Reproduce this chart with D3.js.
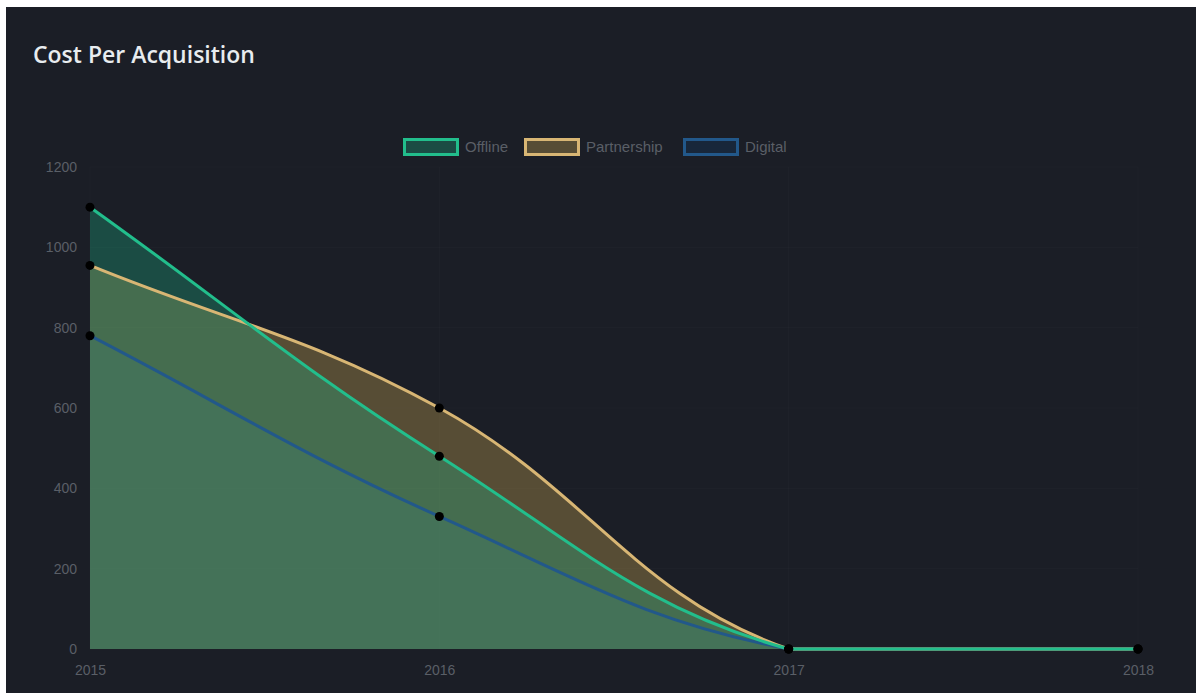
<!DOCTYPE html>
<html>
<head>
<meta charset="utf-8">
<script src="https://cdn.jsdelivr.net/npm/d3@7"></script>
<style>
  html, body { margin: 0; padding: 0; background: #ffffff; }
  svg { display: block; }
</style>
</head>
<body>
<svg id="chart" width="1196" height="693"></svg>
<script>
// Years on the x axis
const years = ["2015", "2016", "2017", "2018"];
// Cost per acquisition by channel
const offline = [1100, 480, 0, 0];
const partnership = [955, 600, 0, 0];
const digital = [780, 330, 0, 0];
// Y axis ticks
const yTicks = [0, 200, 400, 600, 800, 1000, 1200];

const series = [
  { name: "Offline", values: offline, stroke: "rgb(34,190,140)", fill: "rgba(30,185,140,0.30)" },
  { name: "Partnership", values: partnership, stroke: "rgb(216,182,116)", fill: "rgba(210,172,84,0.33)" },
  { name: "Digital", values: digital, stroke: "rgb(34,88,138)", fill: "rgba(20,62,105,0.30)" }
];

const W = 1196, H = 693;
const area = { left: 90, right: 1138, top: 167, bottom: 649 };
const tickColor = "#5a5f67";
const tickFont = "'Liberation Sans', Arial, sans-serif";

const svg = d3.select("#chart");

// Card background
svg.append("rect").attr("x", 6).attr("y", 7).attr("width", W - 6).attr("height", H - 7)
  .attr("fill", "#1b1e26");

svg.append("text")
  .attr("x", 33).attr("y", 63)
  .attr("fill", "#e8ecef")
  .attr("font-family", "'Open Sans', sans-serif")
  .attr("font-weight", 600)
  .attr("font-size", 23)
  .text("Cost Per Acquisition");

const x = d3.scalePoint().domain(years).range([area.left, area.right]);
const y = d3.scaleLinear().domain([0, 1200]).range([area.bottom, area.top]);

// Gridlines
const grid = svg.append("g");
grid.selectAll("line.h").data(yTicks).join("line")
  .attr("x1", area.left).attr("x2", area.right)
  .attr("y1", d => y(d)).attr("y2", d => y(d))
  .attr("stroke", "rgba(255,255,255,0.02)");
grid.selectAll("line.v").data(years).join("line")
  .attr("x1", d => x(d)).attr("x2", d => x(d))
  .attr("y1", area.top).attr("y2", area.bottom)
  .attr("stroke", "rgba(255,255,255,0.02)");

// Spline curve with tension and control points kept inside the plot area
function splineCurve(tension, bounds) {
  return function (context) {
    return {
      areaStart() { this._line = 0; },
      areaEnd() { this._line = NaN; },
      lineStart() { this._pts = []; },
      point(px, py) { this._pts.push([+px, +py]); },
      lineEnd() {
        const p = this._pts, n = p.length;
        if (n) {
          const cps = p.map((cur, i) => {
            const prev = p[Math.max(i - 1, 0)];
            const next = p[Math.min(i + 1, n - 1)];
            const d01 = Math.hypot(cur[0] - prev[0], cur[1] - prev[1]);
            const d12 = Math.hypot(next[0] - cur[0], next[1] - cur[1]);
            let s01 = d01 / (d01 + d12), s12 = d12 / (d01 + d12);
            if (isNaN(s01)) s01 = 0;
            if (isNaN(s12)) s12 = 0;
            const fa = tension * s01, fb = tension * s12;
            const clampX = v => Math.max(bounds.left, Math.min(bounds.right, v));
            const clampY = v => Math.max(bounds.top, Math.min(bounds.bottom, v));
            return {
              c1: [clampX(cur[0] - fa * (next[0] - prev[0])), clampY(cur[1] - fa * (next[1] - prev[1]))],
              c2: [clampX(cur[0] + fb * (next[0] - prev[0])), clampY(cur[1] + fb * (next[1] - prev[1]))]
            };
          });
          if (this._line) context.lineTo(p[0][0], p[0][1]);
          else context.moveTo(p[0][0], p[0][1]);
          for (let i = 1; i < n; i++) {
            context.bezierCurveTo(cps[i - 1].c2[0], cps[i - 1].c2[1], cps[i].c1[0], cps[i].c1[1], p[i][0], p[i][1]);
          }
        }
        if (this._line || (this._line !== 0 && n === 1)) context.closePath();
        this._line = 1 - this._line;
      }
    };
  };
}

const curve = splineCurve(0.4, area);

const areaGen = d3.area()
  .x((d, i) => x(years[i]))
  .y0(y(0))
  .y1(d => y(d))
  .curve(curve);
const lineGen = d3.line()
  .x((d, i) => x(years[i]))
  .y(d => y(d))
  .curve(curve);

// Draw in reverse so the first series sits on top
const drawOrder = series.slice().reverse();
const fills = svg.append("g");
drawOrder.forEach(s => {
  fills.append("path").attr("d", areaGen(s.values)).attr("fill", s.fill);
});
const lines = svg.append("g");
drawOrder.forEach(s => {
  lines.append("path").attr("d", lineGen(s.values))
    .attr("fill", "none").attr("stroke", s.stroke).attr("stroke-width", 3);
});
const pts = svg.append("g");
drawOrder.forEach(s => {
  pts.selectAll(null).data(s.values).join("circle")
    .attr("cx", (d, i) => x(years[i]))
    .attr("cy", d => y(d))
    .attr("r", 4.5)
    .attr("fill", "#000");
});

// Axes
const yAxis = d3.axisLeft(y).tickValues(yTicks).tickFormat(d3.format("d")).tickSize(0).tickPadding(13);
const yg = svg.append("g").attr("transform", `translate(${area.left},0)`).call(yAxis);
yg.select(".domain").remove();
yg.selectAll("text").attr("fill", tickColor).attr("font-size", 14).attr("font-family", tickFont);

const xAxis = d3.axisBottom(x).tickSize(0).tickPadding(16);
const xg = svg.append("g").attr("transform", `translate(0,${area.bottom})`).call(xAxis);
xg.select(".domain").remove();
xg.selectAll("text").attr("fill", tickColor).attr("font-size", 14).attr("font-family", tickFont);

// Legend
const legendX = [403, 524, 683];
const legend = svg.append("g");
series.forEach((s, i) => {
  const g = legend.append("g").attr("transform", `translate(${legendX[i]},138)`);
  g.append("rect").attr("x", 1.5).attr("y", 1.5).attr("width", 53).attr("height", 15)
    .attr("fill", s.fill).attr("stroke", s.stroke).attr("stroke-width", 3);
  g.append("text").attr("x", 62).attr("y", 14)
    .attr("fill", tickColor).attr("font-size", 15).attr("font-family", tickFont)
    .text(s.name);
});
</script>
</body>
</html>
